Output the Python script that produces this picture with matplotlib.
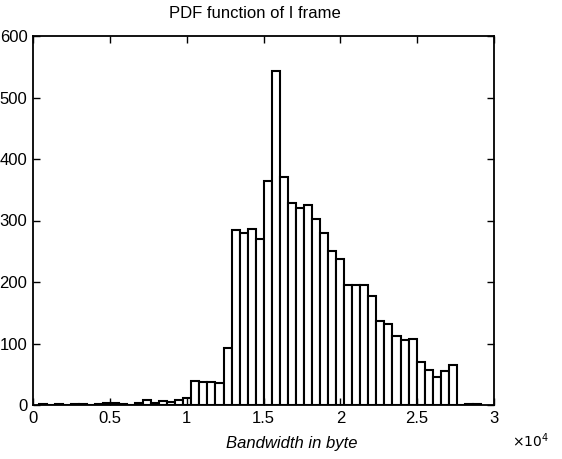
import numpy as np
import matplotlib
matplotlib.use("Agg")
import matplotlib.pyplot as plt

# --- data (MATLAB-style hist: 55 equal bins between data min and max) ---
data_min = 360.0
data_max = 29150.0
counts = [1, 0, 1, 0, 1, 1, 0, 1, 4, 3,
          1, 0, 3, 8, 3, 7, 5, 8, 11, 39,
          38, 38, 36, 93, 284, 279, 286, 270, 365, 543,
          371, 329, 321, 325, 302, 279, 250, 237, 195, 195,
          195, 178, 137, 132, 112, 105, 107, 70, 57, 46,
          56, 65, 0, 1, 2]
title = "PDF function of I frame"
xlabel = "Bandwidth in byte"
xticks = [0, 5000, 10000, 15000, 20000, 25000, 30000]
xticklabels = ["0", "0.5", "1", "1.5", "2", "2.5", "3"]
yticks = [0, 100, 200, 300, 400, 500, 600]

plt.rcParams['font.family'] = ['Liberation Sans Narrow', 'Liberation Sans', 'DejaVu Sans']

W, H = 562, 459
fig = plt.figure(figsize=(W / 100, H / 100), dpi=100)
ax = fig.add_axes([33 / W, 1 - 405 / H, (494 - 33) / W, (405 - 36) / H])

edges = np.linspace(data_min, data_max, len(counts) + 1)
ax.bar(edges[:-1], counts, width=np.diff(edges), align='edge',
       facecolor='white', edgecolor='black', linewidth=1.5)

ax.set_xlim(0, 30000)
ax.set_ylim(0, 600)
ax.set_xticks(xticks)
ax.set_xticklabels(xticklabels)
ax.set_yticks(yticks)
ax.tick_params(direction='in', length=5, width=1, top=True, right=True,
               labelsize=12, pad=4)
for s in ax.spines.values():
    s.set_linewidth(1.3)

ax.set_title(title, fontsize=12, x=(255 - 33) / (494 - 33), pad=13)
ax.set_xlabel(xlabel, fontsize=12, style='italic')
ax.xaxis.set_label_coords((292 - 33) / (494 - 33), -0.085)
fig.text(530 / W, 1 - 441 / H, r"$\times10^{4}$", fontsize=10,
         ha='center', va='center')

fig.savefig("out.png", dpi=100)
